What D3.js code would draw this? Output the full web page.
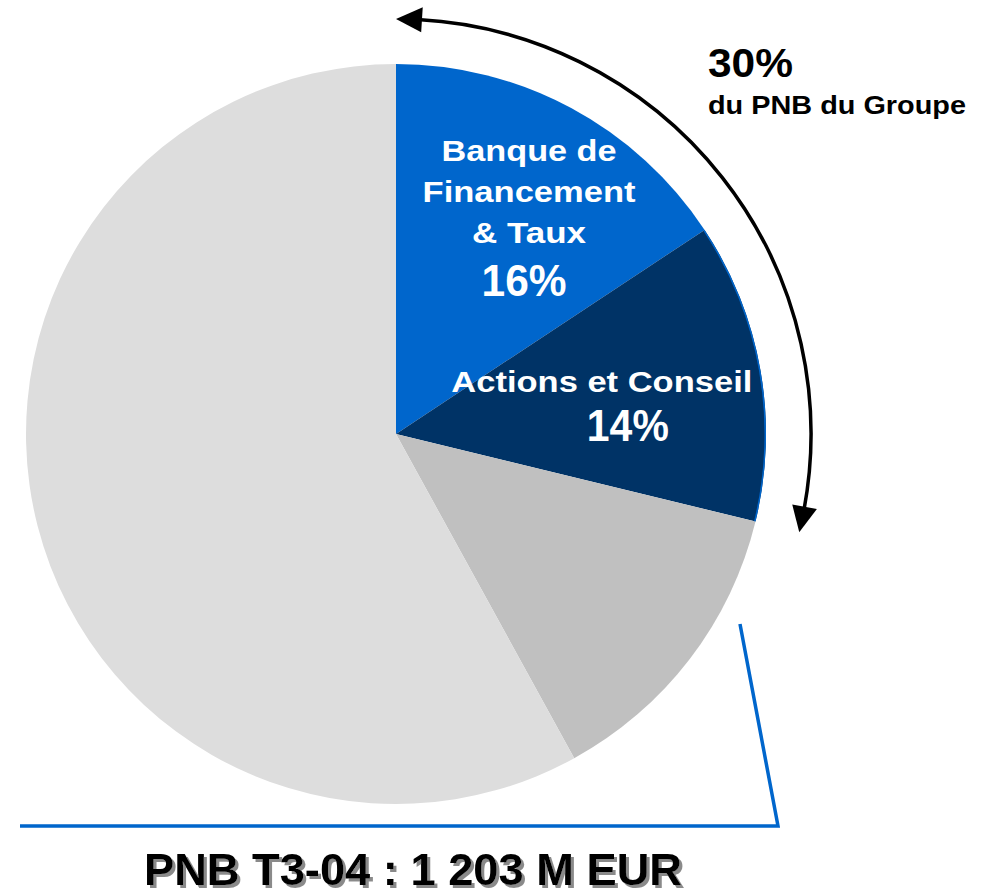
<!DOCTYPE html>
<html lang="fr">
<head>
<meta charset="utf-8">
<title>PNB T3-04</title>
<script src="https://d3js.org/d3.v7.min.js"></script>
<style>
  body { margin: 0; background: #fff; }
  text { font-family: "Liberation Sans", Arial, sans-serif; font-weight: bold; }
</style>
</head>
<body>
<div id="chart"></div>
<script>
// parts of the group's PNB, clockwise from 12 o'clock
var segments = ["Banque de Financement & Taux", "Actions et Conseil", "autre1", "autre2"];
var shares   = [15.7, 13.1, 13.2, 58.0];
var colors   = ["#0066cc", "#003366", "#c0c0c0", "#dddddd"];
var sliceLines = [["Banque de", "Financement", "& Taux"], ["Actions et Conseil"]];
var slicePct   = ["16%", "14%"];
var totalPct   = "30%";
var totalNote  = "du PNB du Groupe";
var title      = "PNB T3-04 : 1 203 M EUR";

var width = 990, height = 895;
var cx = 396, cy = 434, radius = 370;

var svg = d3.select("#chart").append("svg")
    .attr("width", width)
    .attr("height", height);

// shadow for the title
svg.append("defs").append("filter")
    .attr("id", "shadow")
    .attr("x", "-5%").attr("y", "-20%").attr("width", "110%").attr("height", "140%")
  .append("feDropShadow")
    .attr("dx", 3).attr("dy", 3)
    .attr("stdDeviation", 0.6)
    .attr("flood-color", "#8a8a8a")
    .attr("flood-opacity", 1);

var g = svg.append("g").attr("transform", "translate(" + cx + "," + cy + ")");

var pie = d3.pie().sort(null).value(function(d) { return d; });
var arcs = pie(shares);
var arc = d3.arc().innerRadius(0).outerRadius(radius);

g.selectAll("path.slice")
  .data(arcs)
  .enter().append("path")
    .attr("class", "slice")
    .attr("d", arc)
    .attr("fill", function(d, i) { return colors[i]; });

// thin blue rim on the dark slice
g.append("path")
  .attr("d", d3.arc().innerRadius(radius - 1.5).outerRadius(radius)(arcs[1]))
  .attr("fill", "#0066cc");

// slice labels
var labelPos = [
  {r: 262, dx: 9, dy: [-42, -1, 40], pdy: 93, pdx: 4, w: [175, 213, 114], pw: 85},
  {r: 212, dx: -3, dy: [-6], pdy: 43, pdx: 23, w: [301], pw: 82}
];
labelPos.forEach(function(p, i) {
  var c = d3.arc().innerRadius(p.r).outerRadius(p.r).centroid(arcs[i]);
  sliceLines[i].forEach(function(line, j) {
    g.append("text")
      .attr("x", c[0] + p.dx)
      .attr("y", c[1] + p.dy[j])
      .attr("text-anchor", "middle")
      .attr("font-size", 29)
      .attr("fill", "#fff")
      .attr("textLength", p.w[j])
      .attr("lengthAdjust", "spacingAndGlyphs")
      .text(line);
  });
  g.append("text")
    .attr("x", c[0] + p.pdx)
    .attr("y", c[1] + p.pdy)
    .attr("text-anchor", "middle")
    .attr("font-size", 44)
    .attr("fill", "#fff")
    .attr("textLength", p.pw)
    .attr("lengthAdjust", "spacingAndGlyphs")
    .text(slicePct[i]);
});

// curved arrow over the first two slices
var arrowR = 415;
var a0 = arcs[0].startAngle, a1 = arcs[1].endAngle;
var head = 26 / arrowR;
var pt = function(a, r) { return [r * Math.sin(a), -r * Math.cos(a)]; };
g.append("path")
  .attr("d", d3.arc().innerRadius(arrowR).outerRadius(arrowR)
    .startAngle(a0 + head - 0.01).endAngle(a1 - head + 0.01)())
  .attr("fill", "none")
  .attr("stroke", "#000")
  .attr("stroke-width", 3.5);
function arrowHead(tipA, baseA) {
  var t = pt(tipA, arrowR), b1 = pt(baseA, arrowR - 12.5), b2 = pt(baseA, arrowR + 12.5);
  g.append("path")
    .attr("d", "M" + t + "L" + b1 + "L" + b2 + "Z")
    .attr("fill", "#000");
}
arrowHead(a0, a0 + head);
arrowHead(a1, a1 - head);

svg.append("text")
  .attr("x", 708).attr("y", 77)
  .attr("font-size", 40)
  .attr("textLength", 85)
  .attr("lengthAdjust", "spacingAndGlyphs")
  .text(totalPct);
svg.append("text")
  .attr("x", 708).attr("y", 114)
  .attr("font-size", 25)
  .attr("textLength", 258)
  .attr("lengthAdjust", "spacingAndGlyphs")
  .text(totalNote);

// blue bracket under the chart
svg.append("polyline")
  .attr("points", "20,826 778,826 740,624")
  .attr("fill", "none")
  .attr("stroke", "#0066cc")
  .attr("stroke-width", 3.5);

// title
svg.append("text")
  .attr("x", 413).attr("y", 885)
  .attr("text-anchor", "middle")
  .attr("font-size", 44)
  .attr("fill", "#000")
  .attr("filter", "url(#shadow)")
  .attr("textLength", 538)
  .attr("lengthAdjust", "spacingAndGlyphs")
  .text(title);
</script>
</body>
</html>
